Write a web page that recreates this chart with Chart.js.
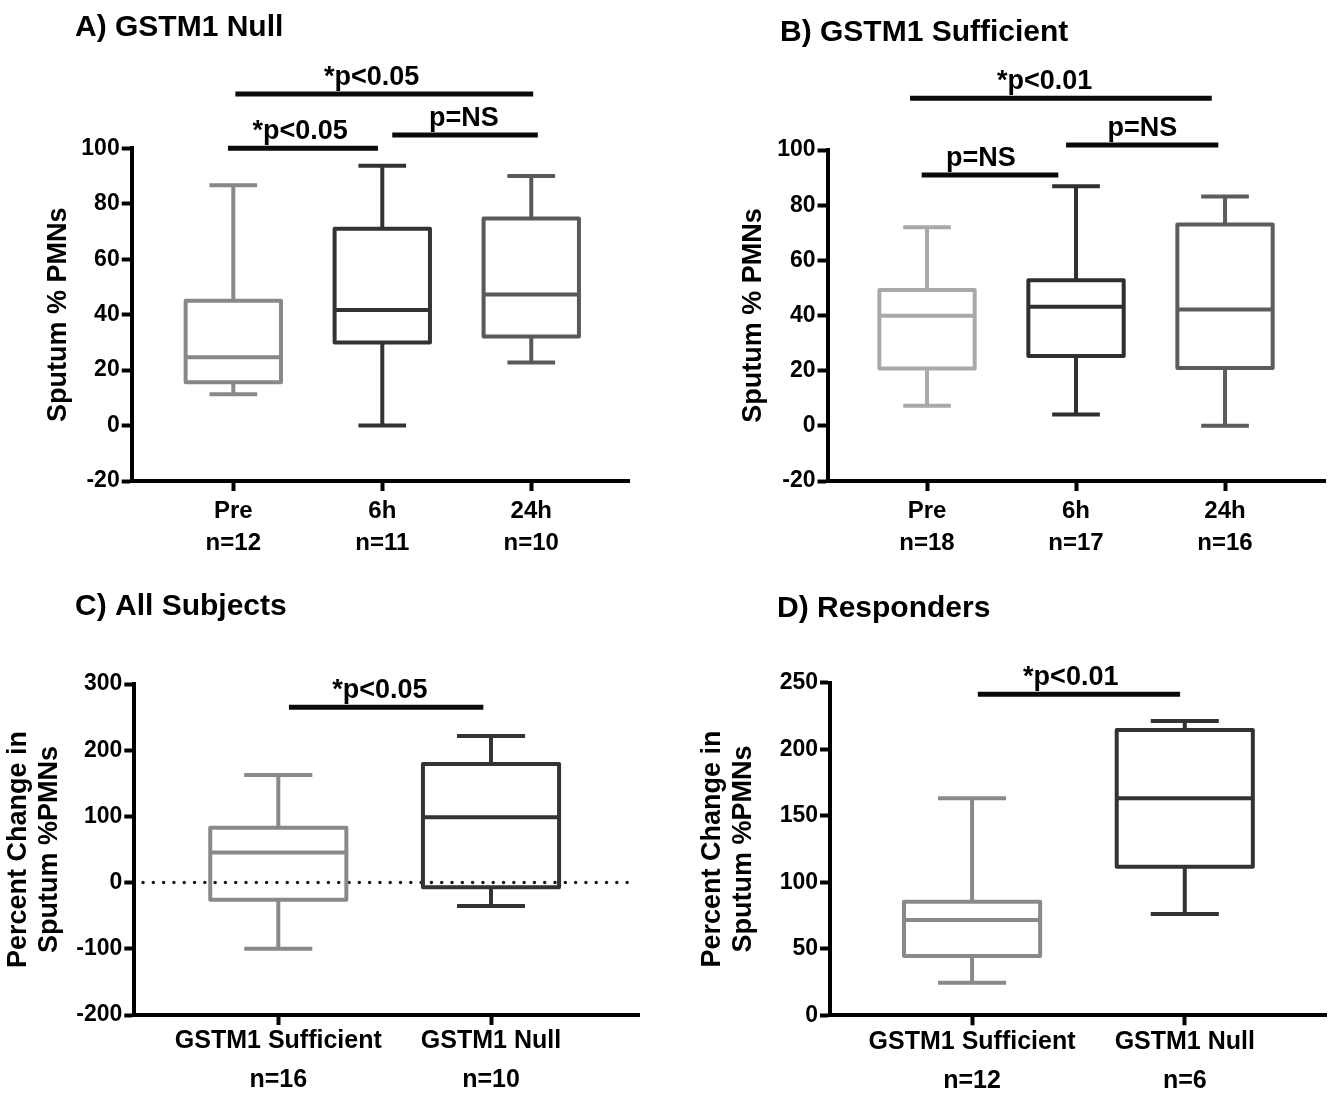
<!DOCTYPE html>
<html>
<head>
<meta charset="utf-8">
<script src="https://cdn.jsdelivr.net/npm/chart.js@4.4.1/dist/chart.umd.min.js"></script>
<style>
html, body { margin: 0; padding: 0; background: #ffffff; }
#wrap { position: relative; width: 1340px; height: 1093px; overflow: hidden; background: #fff; }
canvas { position: absolute; display: block; }
</style>
</head>
<body>
<div id="wrap">
  <canvas id="cA" width="670" height="560" style="left:0px;top:0px;width:670px;height:560px"></canvas>
  <canvas id="cB" width="670" height="560" style="left:670px;top:0px;width:670px;height:560px"></canvas>
  <canvas id="cC" width="670" height="533" style="left:0px;top:560px;width:670px;height:533px"></canvas>
  <canvas id="cD" width="670" height="533" style="left:670px;top:560px;width:670px;height:533px"></canvas>
</div>
<script>
// ---------------- DATA ----------------
// Panels A & B: time points
const timeCats = ['Pre', '6h', '24h'];
const timePos = [1, 2, 3];
const pmnTicks = [-20, 0, 20, 40, 60, 80, 100];

// A) GSTM1 Null
const nullN   = ['n=12', 'n=11', 'n=10'];
const nullMin = [11.3, 0.0, 22.7];
const nullQ1  = [15.6, 30.0, 32.1];
const nullMed = [24.6, 41.7, 47.3];
const nullQ3  = [45.0, 71.0, 74.7];
const nullMax = [86.7, 93.7, 90.0];

// B) GSTM1 Sufficient
const suffN   = ['n=18', 'n=17', 'n=16'];
const suffMin = [7.3, 4.1, 0.0];
const suffQ1  = [20.8, 25.3, 21.0];
const suffMed = [39.9, 43.2, 42.2];
const suffQ3  = [49.2, 52.8, 73.0];
const suffMax = [72.0, 86.9, 83.1];

// Panels C & D: genotype groups
const groupCats = ['GSTM1 Sufficient', 'GSTM1 Null'];
const groupPos = [1, 2];

// C) All Subjects
const allTicks = [-200, -100, 0, 100, 200, 300];
const allN   = ['n=16', 'n=10'];
const allMin = [-100.0, -35.2];
const allQ1  = [-26.0, -7.0];
const allMed = [45.3, 98.8];
const allQ3  = [83.0, 179.3];
const allMax = [162.7, 221.6];

// D) Responders
const respTicks = [0, 50, 100, 150, 200, 250];
const respN   = ['n=12', 'n=6'];
const respMin = [24.5, 76.2];
const respQ1  = [44.6, 111.7];
const respMed = [71.7, 163.2];
const respQ3  = [85.4, 214.5];
const respMax = [163.2, 221.3];

// Significance brackets (in data units)
const sigANames  = ['*p<0.05', 'p=NS', '*p<0.05'];
const sigAFrom   = [0.964, 2.067, 1.014];
const sigATo     = [1.971, 3.044, 3.013];
const sigALevel  = [100.0, 104.8, 119.6];
const sigALabelX = [1.448, 2.548, 1.928];

const sigBNames  = ['p=NS', 'p=NS', '*p<0.01'];
const sigBFrom   = [0.964, 1.933, 0.886];
const sigBTo     = [1.881, 2.955, 2.911];
const sigBLevel  = [90.9, 101.8, 118.8];
const sigBLabelX = [1.362, 2.446, 1.789];

const sigCNames  = ['*p<0.05'];
const sigCFrom   = [1.050];
const sigCTo     = [1.964];
const sigCLevel  = [265];
const sigCLabelX = [1.478];

const sigDNames  = ['*p<0.01'];
const sigDFrom   = [1.027];
const sigDTo     = [1.978];
const sigDLevel  = [241.4];
const sigDLabelX = [1.464];

// reference (zero) line in panel C
const zeroLineValue = 0;
const zeroLineFrom = 0.364;
const zeroLineTo = 2.672;

// ---------------- STYLE ----------------
const FONT = '"Liberation Sans", Arial, Helvetica, sans-serif';
Chart.defaults.font.family = FONT;
Chart.defaults.color = '#000';
const BOX_HALF = 0.32;
const CAP_HALF = 0.16;
const BOX_LW = 4;
const SIG_LW = 5;
const SIG_GAP = 9;

// outline of box, median, whiskers and caps as one broken polyline
function boxPath(x, mn, q1, md, q3, mx) {
  const G = {x: x, y: null};
  return [
    {x: x - BOX_HALF, y: q1}, {x: x + BOX_HALF, y: q1}, {x: x + BOX_HALF, y: q3},
    {x: x - BOX_HALF, y: q3}, {x: x - BOX_HALF, y: q1}, {x: x + BOX_HALF, y: q1}, G,
    {x: x - CAP_HALF, y: mx}, {x: x + CAP_HALF, y: mx}, G,
    {x: x, y: mx}, {x: x, y: q3}, G,
    {x: x - BOX_HALF, y: md}, {x: x + BOX_HALF, y: md}, G,
    {x: x, y: q1}, {x: x, y: mn}, G,
    {x: x - CAP_HALF, y: mn}, {x: x + CAP_HALF, y: mn}
  ];
}

function makePanel(canvasId, p) {
  const ds = [];
  // box body (interquartile range) as floating bars
  ds.push({
    type: 'bar',
    data: p.xs.map((x, i) => ({x: x, y: [p.q1[i], p.q3[i]]})),
    backgroundColor: '#ffffff',
    borderWidth: 0,
    barPercentage: 2 * BOX_HALF,
    categoryPercentage: 1,
    order: 3
  });
  if (p.zero) {
    ds.push({
      type: 'line',
      data: [{x: p.zero.from, y: p.zero.value}, {x: p.zero.to, y: p.zero.value}],
      borderColor: '#1a1a1a', borderWidth: 3.5, borderDash: [0, 10.3], borderCapStyle: 'round',
      pointRadius: 0, fill: false, clip: false, order: 2
    });
  }
  p.xs.forEach((x, i) => {
    ds.push({
      type: 'line',
      data: boxPath(x, p.min[i], p.q1[i], p.med[i], p.q3[i], p.max[i]),
      borderColor: p.colors[i], borderWidth: BOX_LW, borderCapStyle: 'butt', borderJoinStyle: 'round',
      pointRadius: 0, fill: false, spanGaps: false, clip: false, tension: 0, order: 1
    });
  });
  p.sig.names.forEach((n, i) => {
    ds.push({
      type: 'line',
      data: [{x: p.sig.from[i], y: p.sig.level[i]}, {x: p.sig.to[i], y: p.sig.level[i]}],
      borderColor: '#0a0a0a', borderWidth: SIG_LW, borderCapStyle: 'butt',
      pointRadius: 0, fill: false, clip: false, order: 0
    });
  });

  const annot = {
    id: 'annot_' + canvasId,
    afterDraw(chart) {
      const ctx = chart.ctx;
      const xs = chart.scales.x, ys = chart.scales.y;
      ctx.save();
      ctx.fillStyle = '#000';
      ctx.font = 'bold 27px ' + FONT;
      ctx.textAlign = 'center';
      ctx.textBaseline = 'alphabetic';
      p.sig.names.forEach((n, i) => {
        ctx.fillText(n, xs.getPixelForValue(p.sig.labelX[i]), ys.getPixelForValue(p.sig.level[i]) - SIG_GAP);
      });
      ctx.font = 'bold 30px ' + FONT;
      ctx.textAlign = 'left';
      ctx.fillText(p.title, p.titleX, p.titleY);
      ctx.restore();
    }
  };

  return new Chart(document.getElementById(canvasId), {
    type: 'bar',
    data: {datasets: ds},
    plugins: [annot],
    options: {
      responsive: false,
      animation: false,
      events: [],
      layout: {padding: {left: 0, right: p.padRight, top: p.padTop, bottom: 0}},
      plugins: {legend: {display: false}, tooltip: {enabled: false}},
      scales: {
        x: {
          type: 'linear',
          min: p.xMin, max: p.xMax,
          offset: false,
          afterBuildTicks: (s) => { s.ticks = p.xs.map(v => ({value: v})); },
          afterFit: (s) => { s.height = p.xHeight; },
          grid: {display: true, offset: false, drawOnChartArea: false, drawTicks: true,
                 tickLength: 10, tickWidth: 4, tickColor: '#000', color: '#000'},
          border: {display: true, color: '#000', width: 4},
          ticks: {
            autoSkip: false, maxRotation: 0, minRotation: 0,
            padding: p.xPad,
            color: '#000',
            font: {size: p.xFont, weight: 'bold', lineHeight: p.xLH},
            callback: (v, i) => [p.cats[i], p.ns[i]]
          }
        },
        y: {
          type: 'linear',
          min: p.yTicks[0], max: p.yTicks[p.yTicks.length - 1],
          afterBuildTicks: (s) => { s.ticks = p.yTicks.map(v => ({value: v})); },
          afterFit: (s) => { s.width = p.yWidth; },
          grid: {display: true, drawOnChartArea: false, drawTicks: true,
                 tickLength: 10, tickWidth: 4, tickColor: '#000', color: '#000'},
          border: {display: true, color: '#000', width: 4},
          ticks: {padding: 2, color: '#000', font: {size: 23, weight: 'bold'}},
          title: {
            display: true, text: p.yTitle, color: '#000',
            font: {size: 27, weight: 'bold', lineHeight: p.yTitleLH},
            padding: {top: p.yTitlePad, bottom: 0}
          }
        }
      }
    }
  });
}

makePanel('cA', {
  xs: timePos, cats: timeCats, ns: nullN,
  min: nullMin, q1: nullQ1, med: nullMed, q3: nullQ3, max: nullMax,
  colors: ['#888888', '#333333', '#595959'],
  yTicks: pmnTicks, xMin: 0.318, xMax: 3.656,
  padRight: 41, padTop: 148.3, yWidth: 131.7, xHeight: 79,
  xFont: 24, xLH: 1.35, xPad: 4,
  yTitle: 'Sputum % PMNs', yTitleLH: 1.2, yTitlePad: 42.8,
  title: 'A) GSTM1 Null', titleX: 75, titleY: 36,
  sig: {names: sigANames, from: sigAFrom, to: sigATo, level: sigALevel, labelX: sigALabelX}
});

makePanel('cB', {
  xs: timePos, cats: timeCats, ns: suffN,
  min: suffMin, q1: suffQ1, med: suffMed, q3: suffQ3, max: suffMax,
  colors: ['#a9a9a9', '#2f2f2f', '#5c5c5c'],
  yTicks: pmnTicks, xMin: 0.332, xMax: 3.671,
  padRight: 15, padTop: 150, yWidth: 157.5, xHeight: 79,
  xFont: 24, xLH: 1.35, xPad: 4,
  yTitle: 'Sputum % PMNs', yTitleLH: 1.2, yTitlePad: 67.8,
  title: 'B) GSTM1 Sufficient', titleX: 110, titleY: 41,
  sig: {names: sigBNames, from: sigBFrom, to: sigBTo, level: sigBLevel, labelX: sigBLabelX}
});

makePanel('cC', {
  xs: groupPos, cats: groupCats, ns: allN,
  min: allMin, q1: allQ1, med: allMed, q3: allQ3, max: allMax,
  colors: ['#898989', '#333333'],
  yTicks: allTicks, xMin: 0.323, xMax: 2.7,
  padRight: 30.1, padTop: 124, yWidth: 134.3, xHeight: 78,
  xFont: 25, xLH: 1.56, xPad: -3,
  yTitle: ['Percent Change in', 'Sputum %PMNs'], yTitleLH: 1.148, yTitlePad: 3.5,
  title: 'C) All Subjects', titleX: 75, titleY: 55,
  sig: {names: sigCNames, from: sigCFrom, to: sigCTo, level: sigCLevel, labelX: sigCLabelX},
  zero: {value: zeroLineValue, from: zeroLineFrom, to: zeroLineTo}
});

makePanel('cD', {
  xs: groupPos, cats: groupCats, ns: respN,
  min: respMin, q1: respQ1, med: respMed, q3: respQ3, max: respMax,
  colors: ['#898989', '#333333'],
  yTicks: respTicks, xMin: 0.332, xMax: 2.664,
  padRight: 14, padTop: 122.7, yWidth: 160, xHeight: 77.7,
  xFont: 25, xLH: 1.56, xPad: -3,
  yTitle: ['Percent Change in', 'Sputum %PMNs'], yTitleLH: 1.148, yTitlePad: 27.5,
  title: 'D) Responders', titleX: 107, titleY: 57,
  sig: {names: sigDNames, from: sigDFrom, to: sigDTo, level: sigDLevel, labelX: sigDLabelX}
});
</script>
</body>
</html>
